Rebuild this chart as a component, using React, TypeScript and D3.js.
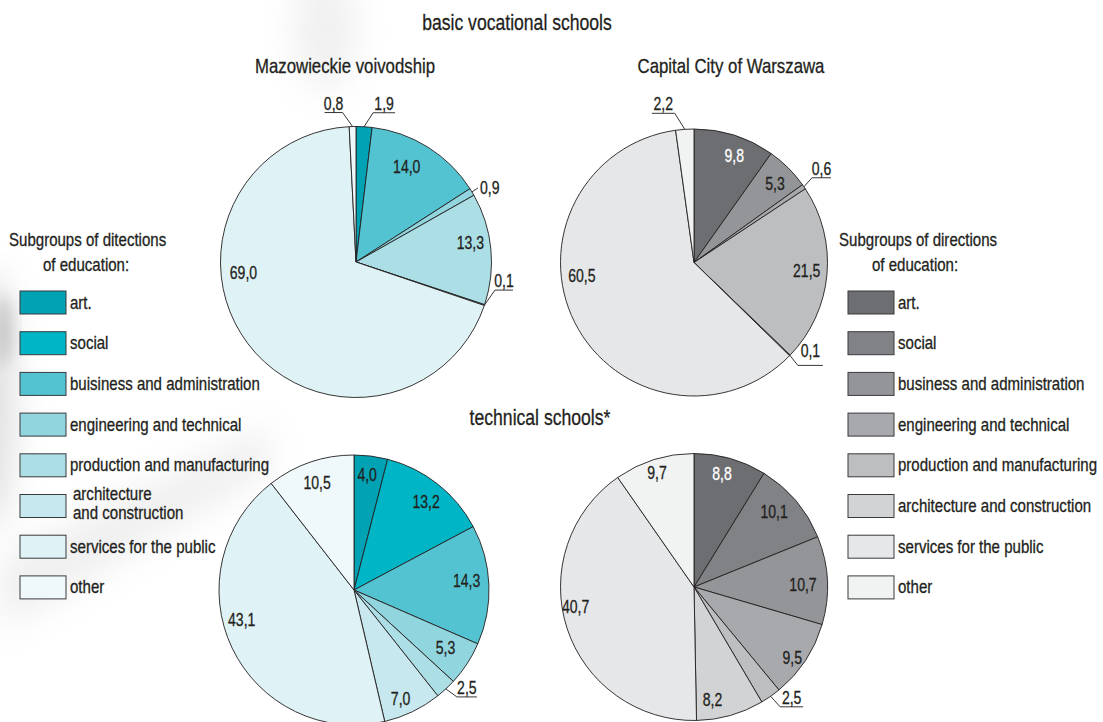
import React from 'react';
import * as d3 from 'd3';

// ---------- data ----------
const categoriesLeft = [
  'art.',
  'social',
  'buisiness and administration',
  'engineering and technical',
  'production and manufacturing',
  'architecture|and construction',
  'services for the public',
  'other',
];
const categoriesRight = [
  'art.',
  'social',
  'business and administration',
  'engineering and technical',
  'production and manufacturing',
  'architecture and construction',
  'services for the public',
  'other',
];
const tealColors = ['#00a2b3', '#00b5c6', '#53c3d1', '#91d5de', '#abdee5', '#c6e8ee', '#dff2f5', '#eff9fb'];
const grayColors = ['#6d6e71', '#808285', '#939598', '#a7a9ac', '#bcbec0', '#d1d3d4', '#e6e7e8', '#f1f2f2'];

const basicMazowieckie = [1.9, 0, 14.0, 0.9, 13.3, 0.1, 69.0, 0.8];
const basicWarszawa = [9.8, 0, 5.3, 0.6, 21.5, 0.1, 60.5, 2.2];
const technicalMazowieckie = [4.0, 13.2, 14.3, 5.3, 2.5, 7.0, 43.1, 10.5];
const technicalWarszawa = [8.8, 10.1, 10.7, 9.5, 2.5, 8.2, 40.7, 9.7];

const titleMain = 'basic vocational schools';
const titleTech = 'technical schools*';
const titleMaz = 'Mazowieckie voivodship';
const titleWaw = 'Capital City of Warszawa';
const legendTitleLeft = ['Subgroups of ditections', 'of education:'];
const legendTitleRight = ['Subgroups of directions', 'of education:'];

// ---------- layout ----------
const FONT = "'Liberation Sans', Arial, sans-serif";
const TEXT = '#231f20';

type LabelIn = { kind: 'in'; shift: number; r: number; color?: string };
type LabelOut = { kind: 'out'; dx: number; dy: number; ul: number; gap?: number };
type LabelSpec = LabelIn | LabelOut | null;

const layoutTL: LabelSpec[] = [
  { kind: 'out', dx: 9, dy: -14, ul: 22 },
  null,
  { kind: 'in', shift: -4, r: 108 },
  { kind: 'out', dx: 6, dy: -4, ul: 0 },
  { kind: 'in', shift: -4, r: 116 },
  { kind: 'out', dx: 10.5, dy: -15, ul: 18 },
  { kind: 'in', shift: 32, r: 113 },
  { kind: 'out', dx: -10, dy: -14, ul: -18 },
];
const layoutTR: LabelSpec[] = [
  { kind: 'in', shift: 3, r: 114, color: '#ffffff' },
  null,
  { kind: 'in', shift: 1, r: 113 },
  { kind: 'out', dx: 8, dy: -9, ul: 19 },
  { kind: 'in', shift: -1, r: 113 },
  { kind: 'out', dx: 8, dy: 10, ul: 25, gap: 8 },
  { kind: 'in', shift: 20, r: 113 },
  { kind: 'out', dx: -10, dy: -16, ul: -23 },
];
const layoutBL: LabelSpec[] = [
  { kind: 'in', shift: -0.7, r: 116 },
  { kind: 'in', shift: 1, r: 114 },
  { kind: 'in', shift: -2.7, r: 113 },
  { kind: 'in', shift: -1, r: 108 },
  { kind: 'out', dx: 11, dy: 8, ul: 20 },
  { kind: 'in', shift: 2.5, r: 118 },
  { kind: 'in', shift: 11, r: 116 },
  { kind: 'in', shift: 0, r: 114 },
];
const layoutBR: LabelSpec[] = [
  { kind: 'in', shift: -2, r: 117, color: '#ffffff' },
  { kind: 'in', shift: -3, r: 110 },
  { kind: 'in', shift: 1.7, r: 109 },
  { kind: 'in', shift: 2.3, r: 121 },
  { kind: 'out', dx: 9.5, dy: 10.5, ul: 23 },
  { kind: 'in', shift: 6.5, r: 114 },
  { kind: 'in', shift: 8.5, r: 120 },
  { kind: 'in', shift: -0.5, r: 120 },
];

const fmt = (v: number) => v.toFixed(1).replace('.', ',');
const rad = (deg: number) => (deg * Math.PI) / 180;

// condensed text: horizontal squeeze to mimic a condensed face
function T({ x, y, size, sx, anchor = 'start', fill = TEXT, children }: { x: number; y: number; size: number; sx: number; anchor?: string; fill?: string; children: React.ReactNode }) {
  return (
    <text
      transform={`translate(${x},${y}) scale(${sx},1)`}
      fontSize={size}
      textAnchor={anchor as any}
      fill={fill}
      stroke={fill}
      strokeWidth={0.3}
      fontFamily={FONT}
    >
      {children}
    </text>
  );
}

const NUM_SIZE = 18;
const NUM_SX = 0.78;

function Pie({ values, colors, cx, cy, R, layout }: { values: number[]; colors: string[]; cx: number; cy: number; R: number; layout: LabelSpec[] }) {
  const pie = d3.pie<number>().sort(null).value((d) => d);
  const arcs = pie(values);
  const arcGen = d3.arc<d3.PieArcDatum<number>>().innerRadius(0).outerRadius(R);
  return (
    <g transform={`translate(${cx},${cy})`}>
      {arcs.map((a, i) =>
        a.value > 0 ? (
          <path key={i} d={arcGen(a) || ''} fill={colors[i]} stroke={TEXT} strokeWidth={0.9} strokeLinejoin="round" />
        ) : null
      )}
      {arcs.map((a, i) => {
        const spec = layout[i];
        if (!spec || a.value <= 0) return null;
        const mid = (a.startAngle + a.endAngle) / 2;
        if (spec.kind === 'in') {
          const ang = mid + rad(spec.shift);
          const x = Math.sin(ang) * spec.r;
          const y = -Math.cos(ang) * spec.r;
          return (
            <T key={'l' + i} x={x} y={y + 6.5} size={NUM_SIZE} sx={NUM_SX} anchor="middle" fill={spec.color || TEXT}>
              {fmt(a.value)}
            </T>
          );
        }
        const ex = Math.sin(mid) * R;
        const ey = -Math.cos(mid) * R;
        const px = ex + spec.dx;
        const py = ey + spec.dy;
        if (spec.ul === 0) {
          return (
            <g key={'l' + i}>
              <line x1={ex} y1={ey} x2={px} y2={py} stroke={TEXT} strokeWidth={0.9} />
              <T x={px + 2} y={py + 6} size={NUM_SIZE} sx={NUM_SX}>
                {fmt(a.value)}
              </T>
            </g>
          );
        }
        const gap = spec.gap ?? 3;
        return (
          <g key={'l' + i}>
            <polyline points={`${ex},${ey} ${px},${py} ${px + spec.ul},${py}`} fill="none" stroke={TEXT} strokeWidth={0.9} />
            <T x={px + spec.ul / 2} y={py - gap} size={NUM_SIZE} sx={NUM_SX} anchor="middle">
              {fmt(a.value)}
            </T>
          </g>
        );
      })}
    </g>
  );
}

const LEG_SIZE = 17.5;
const LEG_SX = 0.86;

function Legend({ x, y, titleX, titleLines, labels, colors }: { x: number; y: number; titleX: number[]; titleLines: string[]; labels: string[]; colors: string[] }) {
  const rowScale = d3.scaleLinear().domain([0, 1]).range([y, y + 40.7]);
  return (
    <g>
      <T x={titleX[0]} y={246} size={LEG_SIZE} sx={LEG_SX}>{titleLines[0]}</T>
      <T x={titleX[1]} y={271} size={LEG_SIZE} sx={LEG_SX}>{titleLines[1]}</T>
      {labels.map((lab, i) => {
        const top = rowScale(i);
        const parts = lab.split('|');
        return (
          <g key={i}>
            <rect x={x} y={top} width={46} height={23} fill={colors[i]} stroke="#3a3a3c" strokeWidth={1} />
            {parts.length === 1 ? (
              <T x={x + 50} y={top + 17.5} size={LEG_SIZE} sx={LEG_SX}>{lab}</T>
            ) : (
              <>
                <T x={x + 53} y={top + 5.5} size={LEG_SIZE} sx={LEG_SX}>{parts[0]}</T>
                <T x={x + 53} y={top + 24} size={LEG_SIZE} sx={LEG_SX}>{parts[1]}</T>
              </>
            )}
          </g>
        );
      })}
    </g>
  );
}

export default function App() {
  return (
    <svg width={1103} height={722} style={{ position: 'absolute', left: 0, top: 0, background: '#ffffff' }} fontFamily={FONT}>
      <defs>
        <filter id="blur" x="-50%" y="-50%" width="200%" height="200%">
          <feGaussianBlur stdDeviation="18" />
        </filter>
        <filter id="blur2" x="-50%" y="-50%" width="200%" height="200%">
          <feGaussianBlur stdDeviation="8" />
        </filter>
      </defs>
      <rect x={0} y={0} width={1103} height={722} fill="#ffffff" />
      {/* decorative background shading */}
      <g filter="url(#blur)" opacity={0.4}>
        <ellipse cx={-12} cy={400} rx={24} ry={130} fill="#a8a8a8" />
        <path d="M0,560 L0,630 L270,470 L270,425 Z" fill="#d6d6d6" />
        <ellipse cx={325} cy={30} rx={30} ry={60} fill="#d8d8d8" />
      </g>
      <g filter="url(#blur2)" opacity={0.45}>
        <ellipse cx={4} cy={330} rx={9} ry={35} fill="#9a9a9a" />
      </g>

      <T x={517} y={30} size={22} sx={0.8} anchor="middle">{titleMain}</T>
      <T x={345} y={73} size={20} sx={0.84} anchor="middle">{titleMaz}</T>
      <T x={731} y={73} size={20} sx={0.84} anchor="middle">{titleWaw}</T>
      <T x={540} y={425} size={22} sx={0.8} anchor="middle">{titleTech}</T>

      <Pie values={basicMazowieckie} colors={tealColors} cx={356} cy={262} R={135.5} layout={layoutTL} />
      <Pie values={basicWarszawa} colors={grayColors} cx={694} cy={262.5} R={133.5} layout={layoutTR} />
      <Pie values={technicalMazowieckie} colors={tealColors} cx={354} cy={590} R={135} layout={layoutBL} />
      <Pie values={technicalWarszawa} colors={grayColors} cx={694} cy={587} R={133.5} layout={layoutBR} />

      <Legend x={20} y={291} titleX={[9, 43]} titleLines={legendTitleLeft} labels={categoriesLeft} colors={tealColors} />
      <Legend x={848} y={291} titleX={[839, 872]} titleLines={legendTitleRight} labels={categoriesRight} colors={grayColors} />
    </svg>
  );
}
